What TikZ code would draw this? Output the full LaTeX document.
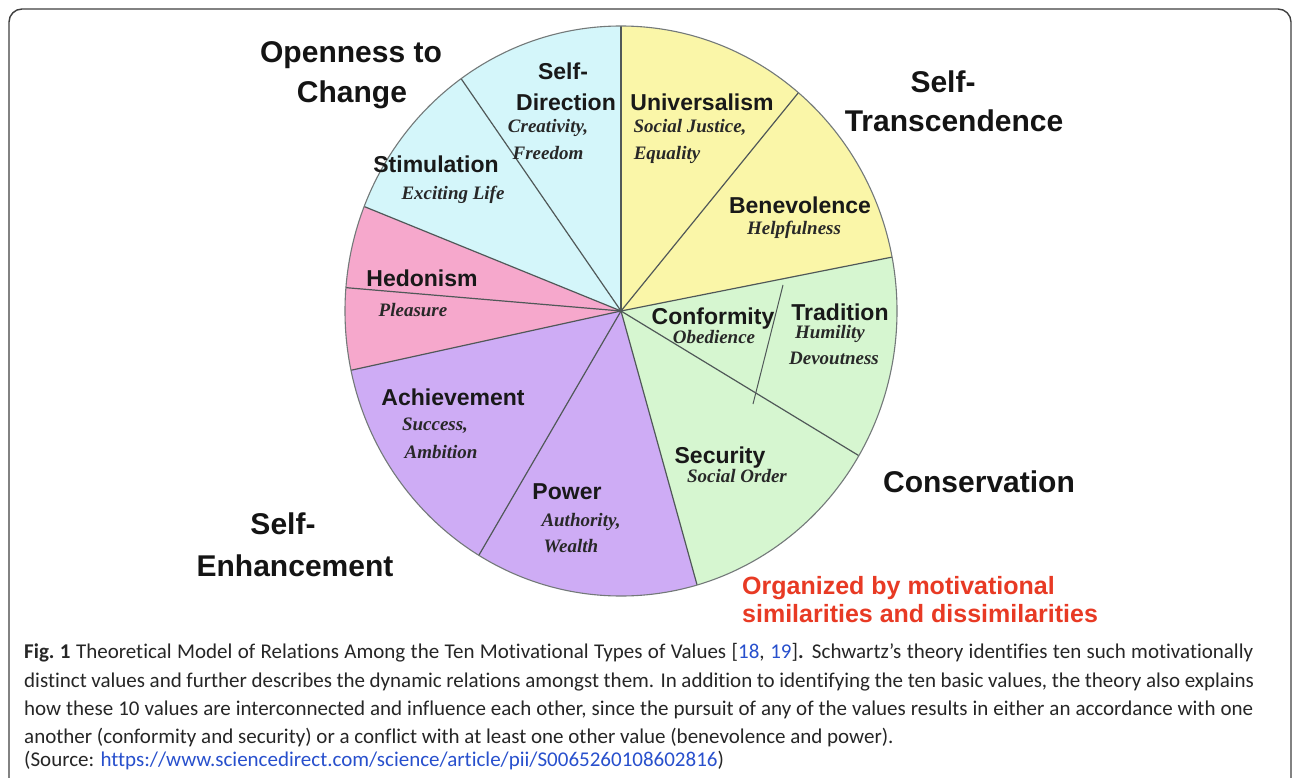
\documentclass[tikz,border=0pt]{standalone}
\usepackage{fontspec}
\setmainfont{Liberation Serif}
\newfontfamily\labfont{Liberation Sans}
\newfontfamily\capfont{Carlito}[Ligatures=NoCommon]
\definecolor{cyanfill}{RGB}{212,246,250}
\definecolor{yellowfill}{RGB}{250,246,168}
\definecolor{greenfill}{RGB}{214,246,208}
\definecolor{pinkfill}{RGB}{246,168,204}
\definecolor{purplefill}{RGB}{206,172,245}
\definecolor{spoke}{RGB}{80,88,88}
\definecolor{subgray}{RGB}{40,40,40}
\definecolor{redtext}{RGB}{232,58,36}
\definecolor{linkblue}{RGB}{40,80,205}
\begin{document}
\begin{tikzpicture}[x=1pt,y=-1pt,
  lab/.style={font=\labfont\bfseries\fontsize{23}{26}\selectfont, inner sep=0pt, anchor=base, text=black!90},
  sub/.style={font=\bfseries\itshape\fontsize{19}{22}\selectfont, inner sep=0pt, anchor=base, text=subgray},
  head/.style={font=\labfont\bfseries\fontsize{30}{34}\selectfont, inner sep=0pt, anchor=base, text=black!92},
  redlab/.style={font=\labfont\bfseries\fontsize{25}{28}\selectfont, inner sep=0pt, anchor=base west, text=redtext},
  capline/.style={font=\capfont\fontsize{21}{25}\selectfont, inner sep=0pt, anchor=base west, text=black!85},
  spokeline/.style={draw=spoke, line width=1.2pt}]
\useasboundingbox (0,0) rectangle (1292,778);
\fill[white] (0,0) rectangle (1292,778);
% frame
\draw[line width=1.4pt, black!75, rounded corners=13pt] (9,9) rectangle (1291,810);
% pie
\def\cx{621}\def\cy{311}\def\rx{276}\def\ry{285}
\coordinate (C) at (\cx,\cy);
\foreach \a/\b/\col in {-90/-50/yellowfill, -50/-10.9/yellowfill, -10.9/30.5/greenfill, 30.5/74/greenfill,
  74/121/purplefill, 121/168/purplefill, 168/184.7/pinkfill, 184.7/201.5/pinkfill,
  201.5/234.6/cyanfill, 234.6/270/cyanfill}{
  \fill[\col] (C) -- plot[domain=\a:\b, samples=40] ({\cx+\rx*cos(\x)},{\cy+\ry*sin(\x)}) -- cycle;
}
\foreach \t [count=\i] in {-90,-50,-10.9,30.5,74,121,168,184.7,201.5,234.6}{
  \coordinate (s\i) at ({\cx+\rx*cos(\t)},{\cy+\ry*sin(\t)});
  \draw[spokeline] (C) -- (s\i);
}
\draw[draw=spoke!80, line width=1.1pt] (C) ellipse [x radius=276pt, y radius=285pt];
\coordinate (cf1) at (783,285);
\coordinate (cf2) at (753,404);
\draw[spokeline, line width=1pt] (cf1) -- (cf2);
% value labels
\node[lab] (sd1) at (563,80) {Self-};
\node[lab] (sd2) at (566,111) {Direction};
\node[sub] (sd3) at (548,133) {Creativity,};
\node[sub] (sd4) at (548,160) {Freedom};
\node[lab] (un1) at (702,111) {Universalism};
\node[sub] (un2) at (690,133) {Social Justice,};
\node[sub] (un3) at (667,160) {Equality};
\node[lab] (be1) at (800,213) {Benevolence};
\node[sub] (be2) at (794,234) {Helpfulness};
\node[lab] (st1) at (436,173) {Stimulation};
\node[sub] (st2) at (453,200) {Exciting Life};
\node[lab] (he1) at (422,286) {Hedonism};
\node[sub] (he2) at (413,316) {Pleasure};
\node[lab] (ac1) at (453,405) {Achievement};
\node[sub] (ac2) at (435,430) {Success,};
\node[sub] (ac3) at (441,458) {Ambition};
\node[lab] (po1) at (567,499) {Power};
\node[sub] (po2) at (581,526) {Authority,};
\node[sub] (po3) at (571,552) {Wealth};
\node[lab] (co1) at (713,324) {Conformity};
\node[sub] (co2) at (714,343) {Obedience};
\node[lab] (tr1) at (840,320) {Tradition};
\node[sub] (tr2) at (830,338) {Humility};
\node[sub] (tr3) at (834,364) {Devoutness};
\node[lab] (se1) at (720,463) {Security};
\node[sub] (se2) at (737,482) {Social Order};
% headings
\node[head] (h1) at (351,62.5) {Openness to};
\node[head] (h2) at (352,102.5) {Change};
\node[head] (h3) at (943,92.5) {Self-};
\node[head] (h4) at (954,131.5) {Transcendence};
\node[head] (h5) at (979,492.5) {Conservation};
\node[head] (h6) at (283,534.5) {Self-};
\node[head] (h7) at (295,576.5) {Enhancement};
\node[redlab] (r1) at (742,594.5) {Organized by motivational};
\node[redlab] (r2) at (742,622.5) {similarities and dissimilarities};
% caption
\node[capline] (c1) at (24,658.5) {\makebox[1229pt][s]{\textbf{Fig.~1} Theoretical Model of Relations Among the Ten Motivational Types of Values [{\color{linkblue}18}, {\color{linkblue}19}]\textbf{.} Schwartz’s theory identifies ten such motivationally}};
\node[capline] (c2) at (24,687.5) {\makebox[1230pt][s]{distinct values and further describes the dynamic relations amongst them. In addition to identifying the ten basic values, the theory also explains}};
\node[capline] (c3) at (24,715.5) {\makebox[1229pt][s]{how these 10 values are interconnected and influence each other, since the pursuit of any of the values results in either an accordance with one}};
\node[capline] (c4) at (24,743.5) {another (conformity and security) or a conflict with at least one other value (benevolence and power).};
\node[capline] (c5) at (24,766.5) {(Source: {\color{linkblue}https://www.sciencedirect.com/science/article/pii/S0065260108602816})};
\end{tikzpicture}
\end{document}
